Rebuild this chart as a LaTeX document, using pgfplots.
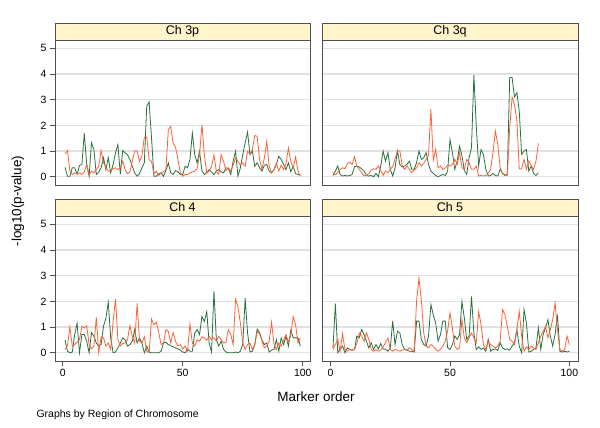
\documentclass[border=0pt]{standalone}
\usepackage{fontspec}
\setmainfont{Liberation Sans}
\usepackage{pgfplots}
\usepackage{pgfplotstable}
\pgfplotsset{compat=1.18}
\definecolor{sgreen}{RGB}{40,112,60}
\definecolor{sorange}{RGB}{250,98,58}
\definecolor{stripfill}{RGB}{255,244,204}
\definecolor{framec}{RGB}{80,80,80}
\definecolor{gridc}{RGB}{225,225,225}

\pgfplotstableread{
m g o
1 0.37 0.89
2 0.02 1.02
3 0.02 0.22
4 0.35 0.09
5 0.35 0.15
6 0.09 0.12
7 0.44 0.15
8 0.48 0.09
9 1.70 0.19
10 0.48 0.48
11 0.02 0.09
12 1.32 0.22
13 1.06 0.15
14 0.09 0.28
15 0.18 0.41
16 0.35 1.02
17 0.74 0.54
18 0.28 0.37
19 0.74 0.22
20 0.15 0.22
21 0.48 0.32
22 0.93 0.35
23 1.25 0.28
24 0.10 0.35
25 1.02 0.60
26 0.93 0.28
27 0.86 0.12
28 0.67 0.19
29 0.41 0.61
30 0.15 1.00
31 0.02 1.00
32 0.12 0.60
33 0.35 0.80
34 0.54 1.55
35 2.74 1.55
36 2.91 0.67
37 1.51 0.60
38 0.02 0.12
39 0.02 0.22
40 0.12 0.05
41 0.15 0.15
42 0.02 0.19
43 0.24 0.28
44 0.54 1.83
45 0.15 1.96
46 0.09 1.30
47 0.24 1.15
48 0.19 0.67
49 0.09 0.15
50 0.09 0.02
51 0.41 0.09
52 0.35 0.09
53 0.67 0.15
54 1.70 0.19
55 0.86 0.22
56 0.54 0.32
57 0.99 0.86
58 0.22 2.03
59 0.09 0.86
60 0.15 0.15
61 0.28 0.22
62 0.19 0.41
63 0.09 0.84
64 0.22 0.22
65 0.28 0.09
66 0.19 0.86
67 0.15 0.60
68 0.35 0.24
69 0.32 0.35
70 0.09 0.22
71 0.61 0.45
72 0.99 0.74
73 0.02 0.60
74 0.35 0.45
75 0.86 0.54
76 1.32 0.41
77 1.74 0.99
78 0.86 0.89
79 0.99 1.05
80 0.41 1.61
81 0.54 1.57
82 0.35 0.67
83 0.22 0.28
84 0.45 0.74
85 0.48 1.38
86 0.22 0.41
87 0.15 0.15
88 0.28 0.28
89 0.48 0.54
90 0.80 0.22
91 0.67 0.45
92 0.48 0.28
93 0.28 0.50
94 0.54 1.12
95 0.19 0.60
96 0.41 0.35
97 0.12 0.77
98 0.09 0.22
99 0.06 0.02
}\chA

\pgfplotstableread{
m g o
1 0.05 0.16
2 0.22 0.08
3 0.42 0.16
4 0.09 0.29
5 0.03 0.35
6 0.05 0.31
7 0.03 0.51
8 0.05 0.57
9 0.09 0.48
10 0.39 0.78
11 0.42 0.42
12 0.38 0.29
13 0.31 0.16
14 0.22 0.03
15 0.05 0.05
16 0.03 0.13
17 0.05 0.26
18 0.00 0.31
19 0.13 0.29
20 0.00 0.42
21 0.42 0.25
22 1.00 0.05
23 0.61 0.22
24 0.94 0.16
25 0.29 0.29
26 0.03 0.39
27 0.35 0.70
28 1.00 1.00
29 0.48 1.00
30 0.38 0.42
31 0.42 0.29
32 0.48 0.42
33 0.61 0.29
34 0.29 0.16
35 0.29 0.26
36 0.55 0.35
37 1.00 0.55
38 0.68 0.42
39 0.74 0.52
40 0.94 0.68
41 0.48 0.83
42 0.22 2.62
43 0.13 0.65
44 0.05 1.06
45 0.00 0.35
46 0.05 0.42
47 0.09 0.29
48 0.05 0.34
49 0.22 0.45
50 1.45 0.42
51 0.94 0.48
52 0.29 0.68
53 0.61 0.48
54 1.19 0.94
55 0.81 0.35
56 0.25 0.29
57 0.09 0.68
58 0.74 0.55
59 1.13 0.29
60 3.95 0.29
61 1.97 0.42
62 0.42 0.03
63 1.06 0.05
64 0.87 0.03
65 0.29 0.05
66 0.03 0.13
67 0.05 0.29
68 0.13 0.94
69 0.05 1.78
70 0.03 1.26
71 0.29 0.35
72 0.13 0.13
73 0.05 0.09
74 0.10 0.05
75 3.86 1.90
76 3.86 3.10
77 3.10 2.80
78 3.27 2.20
79 2.55 0.30
80 0.87 0.31
81 1.00 0.68
82 1.06 0.29
83 0.22 0.61
84 0.42 0.42
85 0.13 0.29
86 0.05 0.61
87 0.16 1.30
}\chB

\pgfplotstableread{
m g o
1 0.49 0.13
2 0.06 0.28
3 0.00 1.00
4 0.03 0.26
5 0.71 0.32
6 1.15 0.41
7 0.00 0.51
8 0.71 1.03
9 0.71 0.96
10 0.45 1.05
11 0.00 0.32
12 0.79 0.15
13 0.64 0.26
14 0.38 1.38
15 0.26 0.00
16 0.32 0.62
17 1.03 0.58
18 1.35 0.26
19 1.96 0.38
20 0.58 0.13
21 0.00 1.22
22 0.03 2.09
23 0.19 0.51
24 0.38 0.26
25 0.58 0.36
26 0.51 0.38
27 0.26 0.51
28 0.32 1.06
29 0.45 0.64
30 0.90 0.38
31 0.38 1.92
32 0.58 0.45
33 0.38 0.38
34 0.00 0.62
35 0.26 0.06
36 0.03 0.00
37 0.00 1.31
38 0.00 1.09
39 0.00 1.18
40 0.00 0.79
41 0.06 0.32
42 0.38 0.38
43 0.41 0.90
44 0.32 0.83
45 0.28 0.38
46 0.23 0.79
47 0.19 0.45
48 0.15 0.26
49 0.10 0.32
50 0.03 0.15
51 0.00 0.26
52 0.15 0.06
53 0.06 1.12
54 0.06 0.38
55 0.77 0.26
56 0.90 0.51
57 0.71 0.45
58 1.41 0.62
59 1.22 0.58
60 1.60 0.49
61 0.38 0.64
62 0.03 0.51
63 2.40 0.58
64 0.51 0.45
65 0.26 0.64
66 0.45 0.51
67 0.13 0.38
68 0.03 0.41
69 0.00 0.90
70 0.00 0.71
71 0.00 0.32
72 0.03 2.08
73 0.00 1.79
74 0.06 1.15
75 0.32 0.38
76 2.12 0.13
77 0.77 0.32
78 0.03 0.38
79 0.06 0.13
80 0.32 0.32
81 0.92 0.83
82 0.79 0.74
83 0.49 0.45
84 0.32 0.19
85 0.38 0.26
86 0.03 0.45
87 0.10 1.19
88 0.13 0.32
89 0.51 0.13
90 0.06 0.38
91 0.58 0.26
92 0.32 0.49
93 0.64 0.71
94 0.26 0.41
95 0.87 0.67
96 0.58 1.41
97 0.58 1.09
98 0.58 0.38
99 0.26 0.58
}\chC

\pgfplotstableread{
m g o
1 0.19 0.13
2 1.91 0.32
3 0.00 0.52
4 0.13 0.06
5 0.26 0.74
6 0.00 0.13
7 0.19 0.06
8 0.13 0.13
9 0.10 0.10
10 0.13 0.13
11 0.65 0.36
12 0.58 0.77
13 0.90 0.65
14 0.71 0.45
15 0.45 0.77
16 0.19 0.52
17 0.39 0.13
18 0.13 0.06
19 0.32 0.13
20 0.15 0.06
21 0.36 0.10
22 0.15 0.23
23 0.13 0.39
24 0.06 0.58
25 0.19 0.13
26 1.23 0.06
27 0.32 0.13
28 0.84 0.10
29 0.77 0.06
30 0.32 0.10
31 0.13 0.13
32 0.10 0.10
33 0.06 0.19
34 0.06 0.13
35 0.03 0.06
36 1.23 2.00
37 1.23 2.90
38 0.52 2.06
39 0.32 0.77
40 0.26 0.26
41 0.65 0.19
42 1.87 0.32
43 1.48 0.26
44 1.16 0.13
45 0.45 0.06
46 0.71 0.13
47 1.23 0.26
48 1.23 0.45
49 0.20 0.85
50 0.13 1.55
51 0.32 0.97
52 0.65 0.26
53 0.52 0.13
54 0.71 0.19
55 2.00 1.29
56 1.35 0.58
57 0.52 0.39
58 0.65 0.58
59 2.19 0.77
60 0.77 0.58
61 0.13 0.39
62 0.23 1.61
63 0.13 1.10
64 0.19 0.32
65 0.06 0.13
66 0.52 0.45
67 0.06 0.32
68 0.13 0.26
69 0.15 0.19
70 0.09 0.26
71 0.39 0.45
72 0.19 1.68
73 0.13 1.48
74 0.15 1.03
75 0.10 0.52
76 0.26 0.45
77 0.39 0.32
78 0.90 0.90
79 0.26 1.61
80 0.00 0.65
81 1.68 0.06
82 1.16 0.23
83 0.03 0.13
84 0.06 0.26
85 0.13 0.19
86 0.19 0.13
87 0.97 0.39
88 0.13 0.65
89 0.71 0.84
90 0.97 1.03
91 1.29 0.58
92 0.65 0.90
93 0.26 1.29
94 0.71 1.94
95 1.48 0.90
96 0.06 0.13
97 0.03 0.06
98 0.06 0.13
99 0.03 0.65
100 0.06 0.32
}\chD

\pgfplotsset{
  panel/.style={
    scale only axis, height=145pt,
    ymin=-0.32, ymax=5.32, ytick={0,1,2,3,4,5},
    ymajorgrids, grid style={gridc, line width=1.3pt},
    axis line style={framec, line width=0.8pt},
    tick style={framec, line width=0.8pt},
    tick align=outside, major tick length=5pt,
    xtick pos=left, ytick pos=left,
    tick label style={font=\fontsize{10.5}{12}\selectfont},
    /pgf/number format/assume math mode=true,
  },
  leftp/.style={width=255pt, xmin=-3.2, xmax=103.0},
  rightp/.style={width=256pt, xmin=-3.6, xmax=103.6, yticklabels=\empty, ytick style={draw=none}},
  topp/.style={xtick=\empty},
  botp/.style={xtick={0,50,100}},
  gline/.style={sgreen, line width=0.8pt, mark=none},
  oline/.style={sorange, line width=0.8pt, mark=none},
}

\newcommand{\strip}[2]{%
  \draw[framec, line width=0.8pt, fill=stripfill] (#1.north west) rectangle ([yshift=17pt]#1.north east);
  \node[font=\fontsize{12.5}{14}\selectfont] at ([yshift=8.5pt]#1.north) {#2};
}

\begin{document}
\begin{tikzpicture}
\path[use as bounding box] (0pt,0pt) rectangle (600pt,428pt);

\begin{axis}[panel, leftp, topp, name=p1, at={(55pt,243pt)}, anchor=south west]
\addplot[gline] table[x=m, y=g] {\chA};
\addplot[oline] table[x=m, y=o] {\chA};
\end{axis}
\strip{p1}{Ch 3p}

\begin{axis}[panel, rightp, topp, name=p2, at={(322pt,243pt)}, anchor=south west]
\addplot[gline] table[x=m, y=g] {\chB};
\addplot[oline] table[x=m, y=o] {\chB};
\end{axis}
\strip{p2}{Ch 3q}

\begin{axis}[panel, leftp, botp, name=p3, at={(55pt,67pt)}, anchor=south west]
\addplot[gline] table[x=m, y=g] {\chC};
\addplot[oline] table[x=m, y=o] {\chC};
\end{axis}
\strip{p3}{Ch 4}

\begin{axis}[panel, rightp, botp, name=p4, at={(322pt,67pt)}, anchor=south west]
\addplot[gline] table[x=m, y=g] {\chD};
\addplot[oline] table[x=m, y=o] {\chD};
\end{axis}
\strip{p4}{Ch 5}

\node[rotate=90, font=\fontsize{13.5}{16}\selectfont] at (18pt,227pt) {-log10(p-value)};
\node[font=\fontsize{13.5}{16}\selectfont] at (316pt,31pt) {Marker order};
\node[anchor=west, font=\fontsize{10.5}{12}\selectfont] at (33pt,13pt) {Graphs by Region of Chromosome};
\end{tikzpicture}
\end{document}
